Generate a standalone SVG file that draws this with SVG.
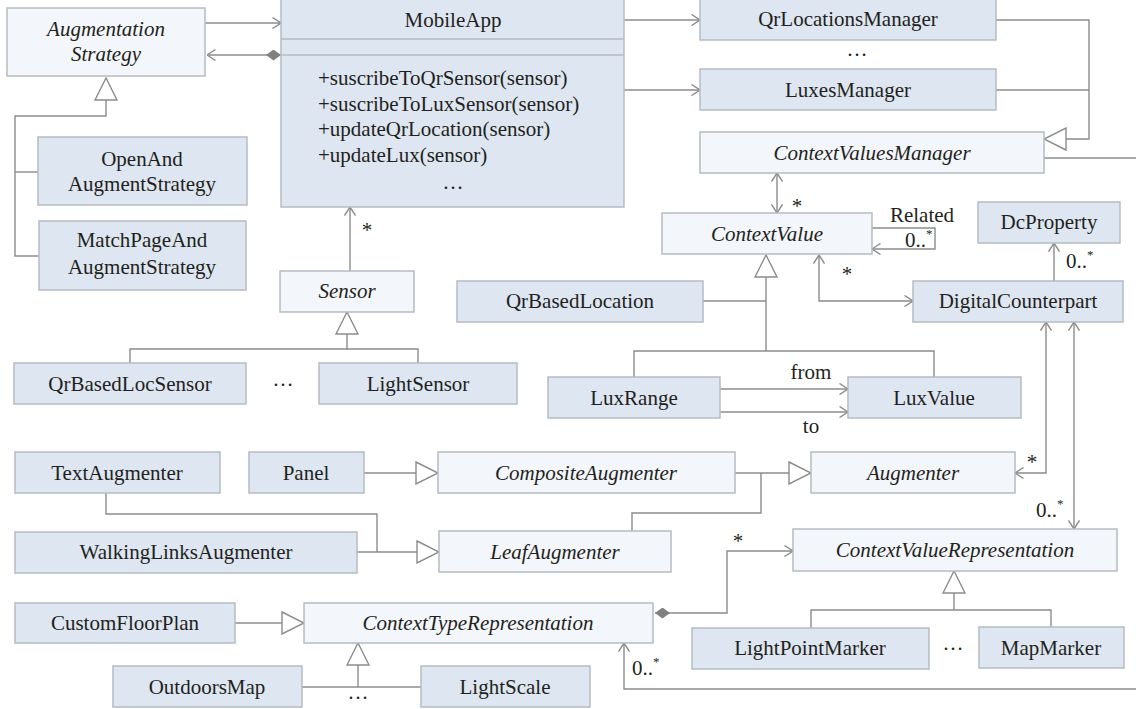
<svg xmlns="http://www.w3.org/2000/svg" width="1136" height="709" viewBox="0 0 1136 709">
<style>
.c{fill:#dde6f1;stroke:#b6bbc2;stroke-width:1.5}
.a{fill:#f3f6fa;stroke:#b6bbc2;stroke-width:1.5}
.sep{stroke:#b6bbc2;stroke-width:1.5}
text{font-family:"Liberation Serif","Times New Roman",serif;font-size:21px;fill:#231f20}
.m{text-anchor:middle}
.i{font-style:italic}
.sup{font-size:13px}
.ln{fill:none;stroke:#8c8c8c;stroke-width:1.4}
.ae{marker-end:url(#arrow)}
.as{marker-start:url(#arrow)}
.g{marker-end:url(#gen)}
.d{marker-start:url(#dia)}
</style>
<defs>
<marker id="arrow" viewBox="0 0 10 12" refX="9.5" refY="6" markerWidth="10" markerHeight="12" markerUnits="userSpaceOnUse" orient="auto-start-reverse"><path d="M1,0.5 L9.5,6 L1,11.5" fill="none" stroke="#8c8c8c" stroke-width="1.4"/></marker>
<marker id="gen" viewBox="0 0 24 24" refX="23" refY="12" markerWidth="24" markerHeight="24" markerUnits="userSpaceOnUse" orient="auto"><path d="M1,1 L23,12 L1,23 Z" fill="#fff" stroke="#8c8c8c" stroke-width="1.4"/></marker>
<marker id="dia" viewBox="0 0 15 11" refX="0" refY="5.5" markerWidth="15" markerHeight="11" markerUnits="userSpaceOnUse" orient="auto"><path d="M0,5.5 L7.5,0 L15,5.5 L7.5,11 Z" fill="#808080"/></marker>
</defs>
<rect width="1136" height="709" fill="#fff"/>

<g id="connectors">
<!-- generalizations -->
<path class="ln g" d="M39,256 H15 V116 H106 V78"/>
<path class="ln" d="M38,172 H15"/>
<path class="ln" d="M130,363 V349 H418 V363"/>
<path class="ln g" d="M347,349 V312"/>
<path class="ln" d="M634,377 V351 H934 V377"/>
<path class="ln g" d="M766,351 V255"/>
<path class="ln" d="M703,301 H766"/>
<path class="ln g" d="M996,20 H1089 V139 H1044"/>
<path class="ln" d="M996,90 H1089"/>
<path class="ln g" d="M364,473 H438"/>
<path class="ln" d="M106,493 V514 H377 V552"/>
<path class="ln g" d="M357,552 H439"/>
<path class="ln g" d="M735,473 H811"/>
<path class="ln" d="M632,531 V513 H761 V473"/>
<path class="ln g" d="M235,623 H304"/>
<path class="ln" d="M302,687 H421"/>
<path class="ln g" d="M358,687 V643"/>
<path class="ln" d="M811,628 V610 H1051 V627"/>
<path class="ln g" d="M954,610 V571"/>
<!-- associations -->
<path class="ln ae" d="M205,23 H281"/>
<path class="ln d ae" d="M281,55 H207"/>
<path class="ln ae" d="M624,20 H700"/>
<path class="ln ae" d="M624,90 H700"/>
<path class="ln" d="M1044,158 H1136"/>
<path class="ln as ae" d="M777,173 V213"/>
<path class="ln ae" d="M872,228 H935 V249 H872"/>
<path class="ln ae" d="M350,271 V207"/>
<path class="ln as ae" d="M819,255 V301 H913"/>
<path class="ln ae" d="M1054,281 V243"/>
<path class="ln as ae" d="M1046,322 V473 H1015"/>
<path class="ln as ae" d="M1074,322 V529"/>
<path class="ln ae" d="M720,389 H848"/>
<path class="ln ae" d="M720,412 H848"/>
<path class="ln d ae" d="M655,613 H727 V551 H793"/>
<path class="ln ae" d="M1136,689 H624 V643"/>
<!-- labels -->
<text class="m" x="367" y="237">*</text>
<text class="m" x="797" y="213">*</text>
<text class="m" x="922" y="222">Related</text>
<text x="905" y="247">0..<tspan class="sup" dy="-9">*</tspan></text>
<text class="m" x="847" y="281">*</text>
<text x="1066" y="268">0..<tspan class="sup" dy="-9">*</tspan></text>
<text class="m" x="811" y="379">from</text>
<text class="m" x="811" y="433">to</text>
<text class="m" x="1032" y="469">*</text>
<text x="1036" y="517">0..<tspan class="sup" dy="-9">*</tspan></text>
<text class="m" x="738" y="548">*</text>
<text x="632" y="675">0..<tspan class="sup" dy="-9">*</tspan></text>
<text class="m" x="857" y="56">…</text>
<text class="m" x="283" y="386">…</text>
<text class="m" x="953" y="650">…</text>
<text class="m" x="358" y="699">…</text>
</g>

<g id="AugmentationStrategy"><rect class="a" x="7" y="8" width="198" height="68"/><text class="m i" x="106" y="36">Augmentation</text><text class="m i" x="106" y="61">Strategy</text></g>
<g id="MobileApp"><rect class="c" x="281" y="-1" width="343" height="208"/><line class="sep" x1="281" y1="39" x2="624" y2="39"/><line class="sep" x1="281" y1="55" x2="624" y2="55"/><text class="m" x="453" y="27">MobileApp</text><text x="318" y="85">+suscribeToQrSensor(sensor)</text><text x="318" y="110.5">+suscribeToLuxSensor(sensor)</text><text x="318" y="136">+updateQrLocation(sensor)</text><text x="318" y="161.5">+updateLux(sensor)</text><text class="m" x="453" y="189">…</text></g>
<g id="QrLocationsManager"><rect class="c" x="700" y="-1" width="296" height="41"/><text class="m" x="848" y="26">QrLocationsManager</text></g>
<g id="LuxesManager"><rect class="c" x="700" y="69" width="296" height="41"/><text class="m" x="848" y="97">LuxesManager</text></g>
<g id="ContextValuesManager"><rect class="a" x="700" y="132" width="344" height="41"/><text class="m i" x="872" y="160">ContextValuesManager</text></g>
<g id="OpenAndAugmentStrategy"><rect class="c" x="38" y="137" width="209" height="68"/><text class="m" x="142" y="166">OpenAnd</text><text class="m" x="142" y="191">AugmentStrategy</text></g>
<g id="MatchPageAndAugmentStrategy"><rect class="c" x="39" y="221" width="207" height="69"/><text class="m" x="142" y="247">MatchPageAnd</text><text class="m" x="142" y="274">AugmentStrategy</text></g>
<g id="Sensor"><rect class="a" x="280" y="271" width="134" height="41"/><text class="m i" x="347" y="298">Sensor</text></g>
<g id="QrBasedLocSensor"><rect class="c" x="14" y="363" width="232" height="41"/><text class="m" x="130" y="391">QrBasedLocSensor</text></g>
<g id="LightSensor"><rect class="c" x="319" y="363" width="198" height="41"/><text class="m" x="418" y="391">LightSensor</text></g>
<g id="ContextValue"><rect class="a" x="662" y="213" width="210" height="41"/><text class="m i" x="767" y="241">ContextValue</text></g>
<g id="QrBasedLocation"><rect class="c" x="457" y="281" width="246" height="41"/><text class="m" x="580" y="308">QrBasedLocation</text></g>
<g id="DcProperty"><rect class="c" x="978" y="202" width="142" height="41"/><text class="m" x="1049" y="229">DcProperty</text></g>
<g id="DigitalCounterpart"><rect class="c" x="913" y="281" width="210" height="41"/><text class="m" x="1018" y="308">DigitalCounterpart</text></g>
<g id="LuxRange"><rect class="c" x="548" y="377" width="172" height="41"/><text class="m" x="634" y="405">LuxRange</text></g>
<g id="LuxValue"><rect class="c" x="848" y="377" width="173" height="41"/><text class="m" x="934" y="405">LuxValue</text></g>
<g id="TextAugmenter"><rect class="c" x="15" y="452" width="205" height="41"/><text class="m" x="117" y="480">TextAugmenter</text></g>
<g id="Panel"><rect class="c" x="249" y="452" width="115" height="41"/><text class="m" x="306" y="480">Panel</text></g>
<g id="CompositeAugmenter"><rect class="a" x="438" y="452" width="297" height="41"/><text class="m i" x="586" y="480">CompositeAugmenter</text></g>
<g id="Augmenter"><rect class="a" x="811" y="452" width="204" height="41"/><text class="m i" x="913" y="480">Augmenter</text></g>
<g id="WalkingLinksAugmenter"><rect class="c" x="15" y="532" width="342" height="41"/><text class="m" x="186" y="559">WalkingLinksAugmenter</text></g>
<g id="LeafAugmenter"><rect class="a" x="439" y="531" width="232" height="41"/><text class="m i" x="555" y="559">LeafAugmenter</text></g>
<g id="ContextValueRepresentation"><rect class="a" x="793" y="529" width="324" height="42"/><text class="m i" x="955" y="557">ContextValueRepresentation</text></g>
<g id="CustomFloorPlan"><rect class="c" x="15" y="603" width="220" height="40"/><text class="m" x="125" y="630">CustomFloorPlan</text></g>
<g id="ContextTypeRepresentation"><rect class="a" x="304" y="603" width="349" height="40"/><text class="m i" x="478" y="630">ContextTypeRepresentation</text></g>
<g id="LightPointMarker"><rect class="c" x="692" y="628" width="237" height="41"/><text class="m" x="810" y="655">LightPointMarker</text></g>
<g id="MapMarker"><rect class="c" x="979" y="627" width="145" height="41"/><text class="m" x="1051" y="655">MapMarker</text></g>
<g id="OutdoorsMap"><rect class="c" x="113" y="666" width="189" height="41"/><text class="m" x="207" y="694">OutdoorsMap</text></g>
<g id="LightScale"><rect class="c" x="421" y="666" width="169" height="41"/><text class="m" x="505" y="694">LightScale</text></g>
</svg>
